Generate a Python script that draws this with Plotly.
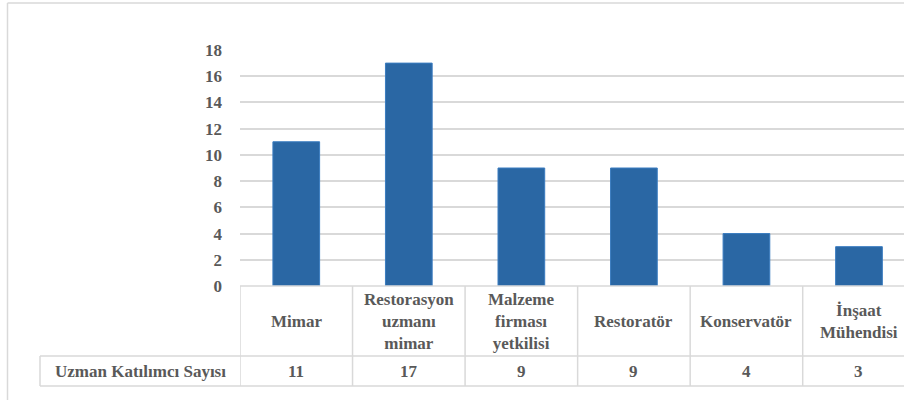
import plotly.graph_objects as go

categories = ["Mimar", "Restorasyon<br>uzmanı<br>mimar", "Malzeme<br>firması<br>yetkilisi",
              "Restoratör", "Konservatör", "İnşaat<br>Mühendisi"]
values = [11, 17, 9, 9, 4, 3]
series_name = "Uzman Katılımcı Sayısı"
y_ticks = [0, 2, 4, 6, 8, 10, 12, 14, 16, 18]

W, H = 904, 400
L, R, T, B = 240, 0, 50, 114
pw, ph = W - L - R, H - T - B
FONT = "Liberation Serif"
TXT = "#595959"
GRID = "#d9d9d9"
FS = 17

def px_x(p):  # pixel -> paper x
    return (p - L) / pw

def px_y(p):  # pixel -> paper y
    return (H - B - p) / ph

tfont = dict(family=FONT, size=FS, color=TXT, weight="bold")

xs = list(range(len(categories)))
fig = go.Figure()
fig.add_trace(go.Bar(
    x=xs, y=values, width=0.415, name=series_name,
    marker=dict(color="#2a67a4", line=dict(color="#3a7cc0", width=1)),
    showlegend=False,
))

shapes = []
hdr_bot = px_y(356)
row_bot = px_y(386)
lbl_left = px_x(40)
line = dict(color=GRID, width=1.5)
for i in range(len(categories) + 1):
    shapes.append(dict(type="line", xref="x", yref="paper", x0=i - 0.5, x1=i - 0.5,
                       y0=0, y1=row_bot, line=line))
shapes.append(dict(type="line", xref="paper", yref="paper", x0=lbl_left, x1=lbl_left,
                   y0=hdr_bot, y1=row_bot, line=line))
for yy in (hdr_bot, row_bot):
    shapes.append(dict(type="line", xref="paper", yref="paper", x0=lbl_left, x1=1.02,
                       y0=yy, y1=yy, line=line))
shapes.append(dict(type="line", xref="paper", yref="paper", x0=0, x1=1.02,
                   y0=0, y1=0, line=line))
shapes.append(dict(type="line", xref="paper", yref="paper", x0=px_x(7.5), x1=px_x(7.5),
                   y0=px_y(3), y1=px_y(400), line=dict(color=GRID, width=1.5)))
shapes.append(dict(type="line", xref="paper", yref="paper", x0=px_x(7.5), x1=1.02,
                   y0=px_y(3), y1=px_y(3), line=dict(color=GRID, width=1.5)))

annotations = []
hdr_mid = (0 + hdr_bot) / 2
for i, (c, v) in enumerate(zip(categories, values)):
    annotations.append(dict(x=i, y=hdr_mid, xref="x", yref="paper", text=c,
                            showarrow=False, font=tfont, align="center",
                            xanchor="center", yanchor="middle"))
    annotations.append(dict(x=i, y=(hdr_bot + row_bot) / 2, xref="x", yref="paper",
                            text=str(v), showarrow=False, font=tfont,
                            xanchor="center", yanchor="middle"))
annotations.append(dict(x=(lbl_left + 0) / 2, y=(hdr_bot + row_bot) / 2, xref="paper",
                        yref="paper", text=series_name, showarrow=False, font=tfont,
                        xanchor="center", yanchor="middle"))

fig.update_layout(
    width=W, height=H,
    margin=dict(l=L, r=R, t=T, b=B, pad=0),
    paper_bgcolor="white", plot_bgcolor="white",
    font=dict(family=FONT, color=TXT, size=FS),
    xaxis=dict(range=[-0.5, len(categories) - 0.6], showticklabels=False, showgrid=False,
               zeroline=False, showline=False, ticks="", fixedrange=True),
    yaxis=dict(range=[0, 18], tickvals=y_ticks, showgrid=True, gridcolor=GRID, gridwidth=1.5,
               zeroline=False, showline=False, ticks="", ticklabelstandoff=17,
               tickfont=tfont, fixedrange=True),
    shapes=shapes, annotations=annotations,
)
fig.write_html("out.html")
